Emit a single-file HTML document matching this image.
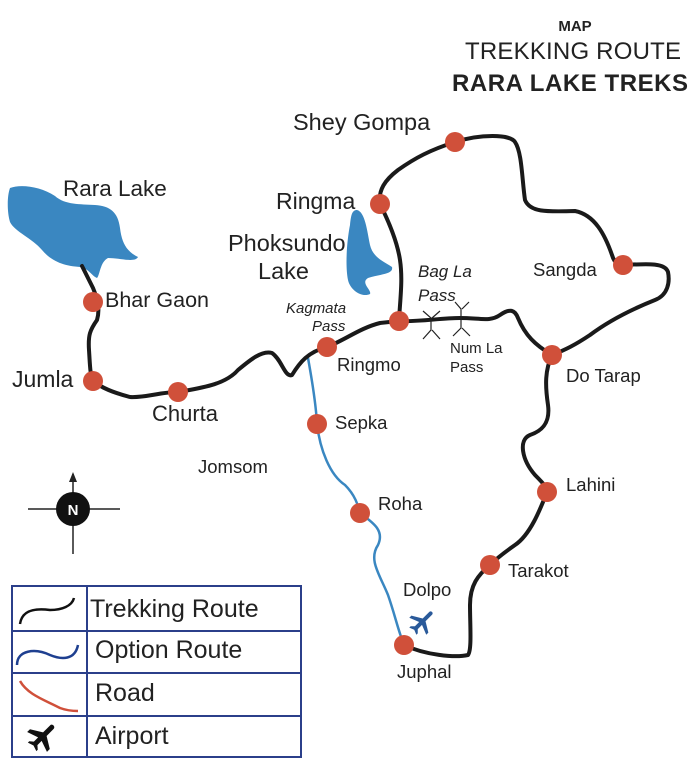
<!DOCTYPE html>
<html><head><meta charset="utf-8"><style>
body{margin:0;background:#fff}
svg{display:block;font-family:"Liberation Sans",sans-serif}
</style></head><body>
<svg width="700" height="767" viewBox="0 0 700 767" xmlns="http://www.w3.org/2000/svg">
<text x="575" y="31" font-size="15" font-weight="bold" text-anchor="middle" fill="#222">MAP</text>
<text x="465" y="59" font-size="24" textLength="216" fill="#222">TREKKING ROUTE</text>
<text x="452" y="91" font-size="24" font-weight="bold" textLength="236" fill="#222">RARA LAKE TREKS</text>
<!-- lakes -->
<path d="M10,188 C20,184 40,186 55,196 C65,205 80,204 95,205 C110,206 118,212 120,228 C122,245 128,252 138,257 C135,263 120,258 108,258 C100,262 100,275 97,278 C92,276 88,268 80,267 C65,266 52,262 42,250 C32,238 15,232 10,222 C7,212 7,196 10,188 Z" fill="#3a87c1"/>
<path d="M357,210 C365,212 367,230 370,245 C373,258 385,262 392,267 C394,275 378,274 368,278 C360,283 372,290 370,294 C362,298 350,290 348,280 C345,265 347,240 350,225 C351,215 352,210 357,210 Z" fill="#3a87c1"/>
<!-- option route -->
<path d="M308,358 C312,380 316,405 317,424 C320,450 330,475 345,485 C355,495 358,505 360,513 C372,522 385,530 378,545 C368,560 380,575 388,595 C395,615 398,630 404,645" fill="none" stroke="#3a87c1" stroke-width="2.5"/>
<!-- trekking route -->
<g fill="none" stroke="#1a1a1a" stroke-width="4" stroke-linecap="round" stroke-linejoin="round">
<path d="M82,266 L93,288 C98,300 100,310 97,320 C90,330 88,335 89,350 C90,365 90,375 93,380 C100,388 115,393 130,397 C145,398 160,392 178,392 C200,388 225,385 238,370 C250,360 262,350 272,353 C282,360 285,378 292,375 C300,362 308,352 327,347 C345,340 360,328 380,323 L399,321"/>
<path d="M399,321 C400,300 403,280 400,260 C397,240 388,220 380,204 C378,190 385,180 398,170 C415,158 430,150 455,142 C480,134 510,134 515,142 C522,152 522,180 525,200 C530,212 545,212 575,211 C595,215 605,235 612,255 C615,265 620,265 623,265 C645,264 665,262 668,272 C670,282 668,295 655,300 C635,308 610,320 590,335 C575,345 565,350 552,355"/>
<path d="M399,321 C420,322 440,318 460,318 C480,318 490,322 500,315 C510,308 515,310 518,318 C525,335 535,345 552,355"/>
<path d="M552,355 C545,370 545,385 548,405 C550,420 545,430 530,435 C518,440 522,460 535,475 C545,485 549,490 547,492 C540,510 530,535 515,545 C505,552 495,560 490,565 C478,575 470,585 470,605 C470,625 472,650 468,655 C455,658 425,655 404,645"/>
</g>
<!-- passes -->
<g stroke="#222" stroke-width="1.2" fill="none">
<path d="M423,311 L431,318 L431,330 L423,339 M440,311 L432,318 M432,330 L440,339"/>
<path d="M455,302 L461,309 L461,328 L453,336 M469,302 L462,309 M462,328 L470,336"/>
</g>
<!-- nodes -->
<g fill="#d0503a">
<circle cx="93" cy="302" r="10"/><circle cx="93" cy="381" r="10"/><circle cx="178" cy="392" r="10"/>
<circle cx="327" cy="347" r="10"/><circle cx="399" cy="321" r="10"/><circle cx="380" cy="204" r="10"/>
<circle cx="455" cy="142" r="10"/><circle cx="623" cy="265" r="10"/><circle cx="552" cy="355" r="10"/>
<circle cx="547" cy="492" r="10"/><circle cx="490" cy="565" r="10"/><circle cx="404" cy="645" r="10"/>
<circle cx="317" cy="424" r="10"/><circle cx="360" cy="513" r="10"/>
</g>
<!-- labels -->
<g fill="#222" font-size="22.5">
<text x="63" y="196">Rara Lake</text>
<text x="105" y="307" font-size="21.5">Bhar Gaon</text>
<text x="12" y="387" font-size="23">Jumla</text>
<text x="152" y="421" font-size="22">Churta</text>
<text x="293" y="130" font-size="23.5">Shey Gompa</text>
<text x="276" y="209" font-size="23">Ringma</text>
<text x="228" y="251" font-size="23.5">Phoksundo</text>
<text x="258" y="279" font-size="23.5">Lake</text>
</g>
<g fill="#222" font-size="18.5">
<text x="337" y="371">Ringmo</text>
<text x="533" y="276">Sangda</text>
<text x="566" y="382">Do Tarap</text>
<text x="566" y="491">Lahini</text>
<text x="508" y="577">Tarakot</text>
<text x="403" y="596">Dolpo</text>
<text x="397" y="678">Juphal</text>
<text x="335" y="429">Sepka</text>
<text x="378" y="510">Roha</text>
<text x="198" y="473">Jomsom</text>
<text x="418" y="277" font-style="italic" font-size="17">Bag La</text>
<text x="418" y="301" font-style="italic" font-size="17">Pass</text>
</g>
<g fill="#222" font-size="15">
<text x="286" y="313" font-style="italic">Kagmata</text>
<text x="312" y="331" font-style="italic">Pass</text>
<text x="450" y="353">Num La</text>
<text x="450" y="372">Pass</text>
</g>
<!-- airplane -->
<g transform="translate(422,622) rotate(45)" fill="#2a5a9a">
<path d="M-2,-12 C-2,-15 2,-15 2,-12 L2,-3 L12,3 L12,6 L2,2 L2,8 L5,11 L5,13 L0,11 L-5,13 L-5,11 L-2,8 L-2,2 L-12,6 L-12,3 L-2,-3 Z"/>
</g>
<!-- compass -->
<g stroke="#222" stroke-width="1.5">
<line x1="28" y1="509" x2="120" y2="509"/>
<line x1="73" y1="474" x2="73" y2="554"/>
</g>
<path d="M73,472 L69,482 L77,482 Z" fill="#222"/>
<circle cx="73" cy="509" r="17" fill="#111"/>
<text x="73" y="515" font-size="15" font-weight="bold" fill="#fff" text-anchor="middle">N</text>
<!-- legend -->
<g fill="none" stroke="#2b3f8a" stroke-width="2">
<rect x="12" y="586" width="289" height="171"/>
<line x1="87" y1="586" x2="87" y2="757"/>
<line x1="12" y1="631" x2="301" y2="631"/>
<line x1="12" y1="673" x2="301" y2="673"/>
<line x1="12" y1="716" x2="301" y2="716"/>
</g>
<path d="M20,624 C22,610 35,608 50,610 C62,610 72,606 74,598" fill="none" stroke="#111" stroke-width="2.5"/>
<path d="M17,665 C17,650 35,648 50,655 C62,660 75,660 78,645" fill="none" stroke="#1e3f90" stroke-width="2.5"/>
<path d="M20,681 C28,695 45,700 60,708 C68,711 75,711 78,711" fill="none" stroke="#d0503a" stroke-width="2.5"/>
<g transform="translate(42,737) rotate(45)" fill="#111">
<path d="M-2.5,-14 C-2.5,-17 2.5,-17 2.5,-14 L2.5,-4 L14,3 L14,7 L2.5,3 L2.5,9 L6,12 L6,14 L0,12 L-6,14 L-6,12 L-2.5,9 L-2.5,3 L-14,7 L-14,3 L-2.5,-4 Z"/>
</g>
<g fill="#222" font-size="25">
<text x="90" y="617">Trekking Route</text>
<text x="95" y="658">Option Route</text>
<text x="95" y="701">Road</text>
<text x="95" y="744">Airport</text>
</g>
</svg>
</body></html>
